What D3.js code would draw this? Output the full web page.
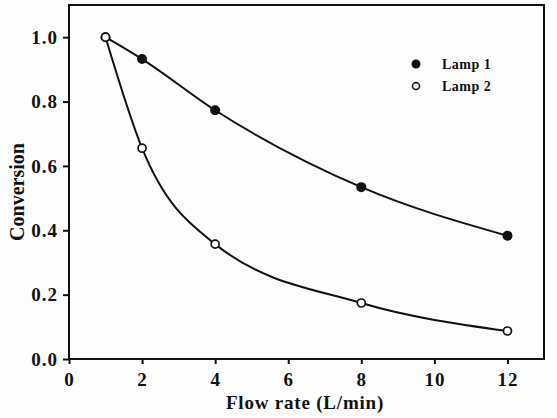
<!DOCTYPE html>
<html lang="en">
<head>
    <meta charset="UTF-8">
    <title>Conversion vs flow rate</title>
    <script src="https://cdn.jsdelivr.net/npm/d3@7"></script>
    <style>
        body { margin: 0; background: #fdfdfd; }
        svg text { font-family: "Liberation Serif", "DejaVu Serif", serif; font-weight: bold; fill: #111; }
    </style>
</head>
<body>
    <svg id="chart" width="557" height="418"></svg>
    <script>
        // data
        let flowRate = [1, 2, 4, 8, 12];
        let lamp1 = [1.0, 0.932, 0.773, 0.534, 0.383];
        let lamp2 = [1.0, 0.655, 0.357, 0.174, 0.087];
        let xTicks = [0, 2, 4, 6, 8, 10, 12];
        let yTicks = [0.0, 0.2, 0.4, 0.6, 0.8, 1.0];

        let svg = d3.select("#chart");
        let plotLeft = 69, plotRight = 544, plotTop = 5, plotBottom = 359;

        let x = d3.scaleLinear().domain([0, 13]).range([plotLeft, plotRight]);
        let y = d3.scaleLinear().domain([0, 1.1]).range([plotBottom, plotTop]);

        // frame
        svg.append("rect")
            .attr("x", plotLeft).attr("y", plotTop)
            .attr("width", plotRight - plotLeft).attr("height", plotBottom - plotTop)
            .attr("fill", "none").attr("stroke", "#111").attr("stroke-width", 2);

        // axes
        let xAxis = svg.append("g")
            .attr("transform", "translate(0," + plotBottom + ")")
            .call(d3.axisBottom(x).tickValues(xTicks).tickSize(5).tickPadding(9).tickFormat(d3.format("d")));
        let yAxis = svg.append("g")
            .attr("transform", "translate(" + plotLeft + ",0)")
            .call(d3.axisLeft(y).tickValues(yTicks).tickSize(6).tickPadding(5).tickFormat(d3.format(".1f")));

        [xAxis, yAxis].forEach(function (a) {
            a.select(".domain").remove();
            a.selectAll("line").attr("stroke", "#111").attr("stroke-width", 2);
            a.selectAll("text").style("font-size", "19px").style("letter-spacing", "1px");
        });

        // curves
        let line = d3.line()
            .x(function (d) { return x(d[0]); })
            .y(function (d) { return y(d[1]); })
            .curve(d3.curveMonotoneX);

        let s1 = flowRate.map(function (f, i) { return [f, lamp1[i]]; });
        let s2 = flowRate.map(function (f, i) { return [f, lamp2[i]]; });

        [s1, s2].forEach(function (s) {
            svg.append("path").datum(s)
                .attr("d", line)
                .attr("fill", "none").attr("stroke", "#111").attr("stroke-width", 2);
        });

        // markers
        svg.selectAll(".p1").data(s1).enter().append("circle")
            .attr("cx", function (d) { return x(d[0]); })
            .attr("cy", function (d) { return y(d[1]); })
            .attr("r", 5).attr("fill", "#111");
        svg.selectAll(".p2").data(s2).enter().append("circle")
            .attr("cx", function (d) { return x(d[0]); })
            .attr("cy", function (d) { return y(d[1]); })
            .attr("r", 4).attr("fill", "#fff").attr("stroke", "#111").attr("stroke-width", 1.7);

        // legend
        let legend = svg.append("g").attr("transform", "translate(416,64)");
        legend.append("circle").attr("cx", 0).attr("cy", 0).attr("r", 4.5).attr("fill", "#111");
        legend.append("circle").attr("cx", 0).attr("cy", 22).attr("r", 3.5)
            .attr("fill", "#fff").attr("stroke", "#111").attr("stroke-width", 1.5);
        legend.append("text").attr("x", 26).attr("y", 5).style("font-size", "14px").style("letter-spacing", "0.5px").text("Lamp 1");
        legend.append("text").attr("x", 26).attr("y", 27).style("font-size", "14px").style("letter-spacing", "0.5px").text("Lamp 2");

        // titles
        svg.append("text")
            .attr("x", 305).attr("y", 409)
            .attr("text-anchor", "middle").style("font-size", "19px").style("letter-spacing", "0.8px")
            .text("Flow rate (L/min)");
        svg.append("text")
            .attr("transform", "translate(24,192) rotate(-90)")
            .attr("text-anchor", "middle").style("font-size", "20px")
            .text("Conversion");
    </script>
</body>
</html>
